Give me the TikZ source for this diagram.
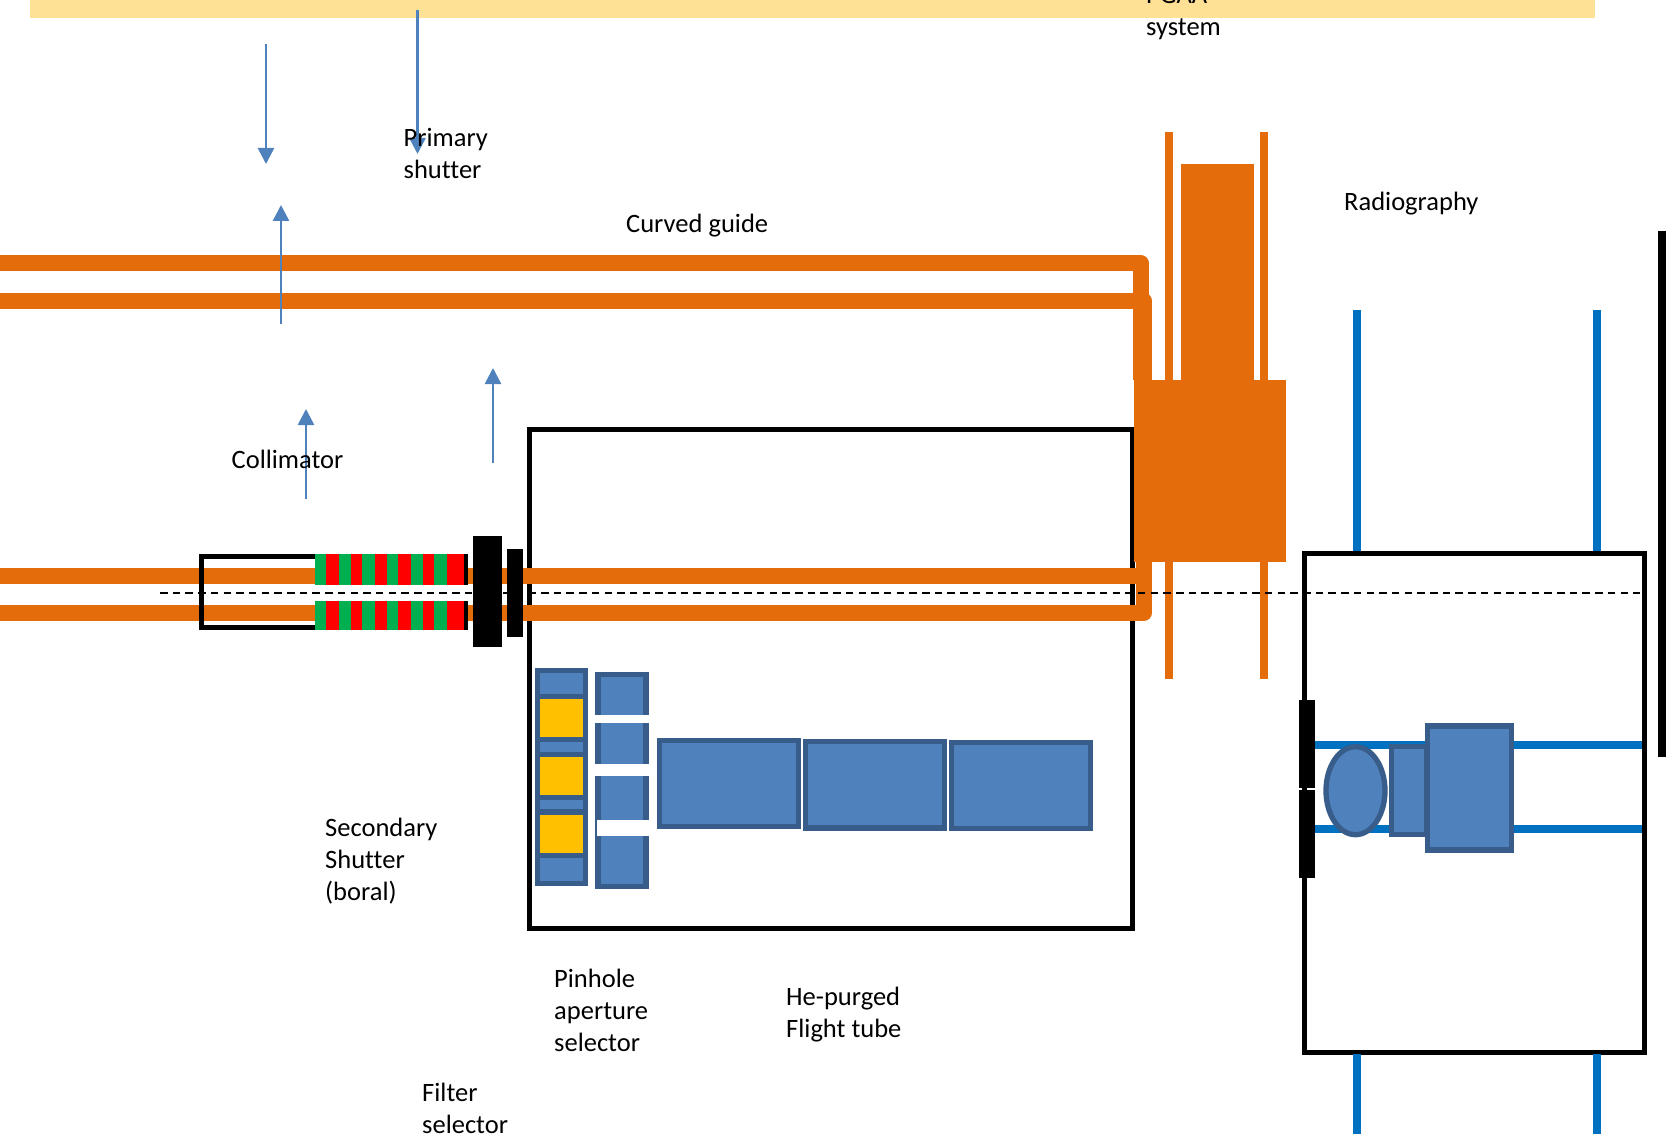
\documentclass[tikz,border=0pt]{standalone}
\usepackage{fontspec}
\setmainfont{Carlito}[Ligatures=CommonOff]
\usetikzlibrary{arrows.meta}

\definecolor{guideorange}{HTML}{E46C0A}
\definecolor{bandyellow}{HTML}{FFE196}
\definecolor{partblue}{HTML}{4F81BD}
\definecolor{partedge}{HTML}{385D8A}
\definecolor{railblue}{HTML}{0070C0}
\definecolor{filteryellow}{HTML}{FFC000}
\definecolor{collgreen}{HTML}{00B050}

\tikzset{
    guide/.style={draw=guideorange, line width=16pt, line join=round},
    solidorange/.style={fill=guideorange},
    framebox/.style={draw=black, line width=5pt},
    blackpart/.style={fill=black},
    part/.style={draw=partedge, fill=partblue, line width=5.3pt},
    filterpart/.style={draw=partedge, fill=filteryellow, line width=5.3pt},
    rail/.style={draw=railblue, line width=8pt},
    marker/.style={draw=partblue, line width=2.6pt, -{Triangle[length=16pt,width=16pt]}},
    label/.style={anchor=west, align=left}
}

\begin{document}
\begin{tikzpicture}[x=1pt, y=-1pt, every node/.style={font=\fontsize{26.5}{32}\selectfont, inner sep=0pt}]
    \useasboundingbox (0,0) rectangle (1666,1134);

    % top band
    \fill[bandyellow] (30,-5) rectangle (1595,18);

    % sample and detector boxes
    \draw[framebox] (529,429) rectangle (1132.5,928.5);
    \draw[framebox] (1304.3,553) rectangle (1644,1052);

    % guide
    \draw[guide] (-10,263.5) -- (1141,263.5) -- (1141,320);
    \draw[guide] (-10,300.5) -- (1144,300.5) -- (1144,612.5) -- (-10,612.5);
    \draw[guide] (-10,575.5) -- (1144,575.5);
    \fill[solidorange] (1133,292) rectangle (1145,380);

    % PGAA block
    \fill[solidorange] (1134,380) rectangle (1286,562);
    \fill[solidorange] (1181,164) rectangle (1254,380);
    \fill[solidorange] (1165,132) rectangle (1173,380);
    \fill[solidorange] (1260,132) rectangle (1268,380);
    \fill[solidorange] (1165,562) rectangle (1173,679);
    \fill[solidorange] (1260,562) rectangle (1268,679);

    % collimator
    \draw[framebox] (465.5,585) |- (201.5,556.5) |- (465.5,627.5) -- (465.5,601);
    \foreach \xa/\xb/\segcol in {314.7/326.3/collgreen, 326.3/338.7/red, 338.7/351/collgreen, 351/362.3/red, 362.3/375/collgreen, 375/387/red, 387/398.3/collgreen, 398.3/411/red, 411/423/collgreen, 423/434.3/red, 434.3/447/collgreen, 447/463.7/red} {
        \fill[\segcol] (\xa,554) rectangle (\xb,585);
        \fill[\segcol] (\xa,601) rectangle (\xb,630);
    }

    % secondary shutter
    \fill[blackpart] (473,536) rectangle (502,647);
    \fill[blackpart] (507,549) rectangle (523,637);

    % filter selector
    \draw[part] (537.7,670.7) rectangle (585.3,883.3);
    \draw[filterpart] (537.7,696.3) rectangle (585.3,739.7);
    \draw[filterpart] (537.7,754.4) rectangle (585.3,797.4);
    \draw[filterpart] (537.7,812) rectangle (585.3,855.4);

    % pinhole selector
    \draw[part] (598,674.4) rectangle (646,886.6);
    \fill[white] (595,715.3) rectangle (649.5,723.3);
    \fill[white] (595,764.3) rectangle (649.5,776.3);
    \fill[white] (596.7,820.3) rectangle (649.5,836.3);

    % flight tube
    \draw[part] (659.7,740.4) rectangle (798.3,826.6);
    \draw[part] (805.7,741.7) rectangle (944.3,828);
    \draw[part] (951.7,742.7) rectangle (1090.3,828.7);

    % radiography
    \draw[rail] (1357,310) -- (1357,551);
    \draw[rail] (1596.5,310) -- (1596.5,551);
    \draw[rail] (1357,1054) -- (1357,1140);
    \draw[rail] (1596.5,1054) -- (1596.5,1140);
    \draw[rail] (1315,745) -- (1642,745);
    \draw[rail] (1315,829.3) -- (1642,829.3);
    \fill[blackpart] (1299.3,700) rectangle (1315.3,788);
    \fill[blackpart] (1299.3,790.3) rectangle (1315.3,878.3);
    \draw[part] (1355.5,790.7) ellipse [x radius=29.5pt, y radius=44pt];
    \draw[part] (1391.7,746.7) rectangle (1427,834.6);
    \draw[part] (1427.7,726) rectangle (1511.3,850);
    \fill[blackpart] (1658,231) rectangle (1670,756.7);

    % beam axis
    \draw[black, line width=2pt, dash pattern=on 7.5pt off 5.2pt] (160,593) -- (1640,593);

    % arrows
    \coordinate (downa) at (266,44);
    \coordinate (downb) at (266,164);
    \coordinate (downc) at (417.5,10);
    \coordinate (downd) at (417.5,154);
    \coordinate (upa) at (281,324);
    \coordinate (upb) at (281,205);
    \coordinate (upc) at (306,499);
    \coordinate (upd) at (306,409);
    \coordinate (upe) at (493,463);
    \coordinate (upf) at (493,368);
    \draw[marker] (downa) -- (downb);
    \draw[marker] (downc) -- (downd);
    \draw[marker] (upa) -- (upb);
    \draw[marker] (upc) -- (upd);
    \draw[marker] (upe) -- (upf);

    % labels
    \node (pgaa) [label] at (1146,13) {PGAA\\system};
    \node (primary) [label] at (403.5,153) {Primary\\shutter};
    \node (curved) [label] at (626,226) {Curved guide};
    \node (radio) [label] at (1344,204) {Radiography};
    \node (collim) [label] at (231.5,459) {Collimator};
    \node (secondary) [label] at (325,861) {Secondary\\Shutter\\(boral)};
    \node (pinhole) [label] at (554,1010) {Pinhole\\aperture\\selector};
    \node (tube) [label] at (786,1015) {He-purged\\Flight tube};
    \node (filter) [label] at (422,1108) {Filter\\selector};
\end{tikzpicture}
\end{document}
